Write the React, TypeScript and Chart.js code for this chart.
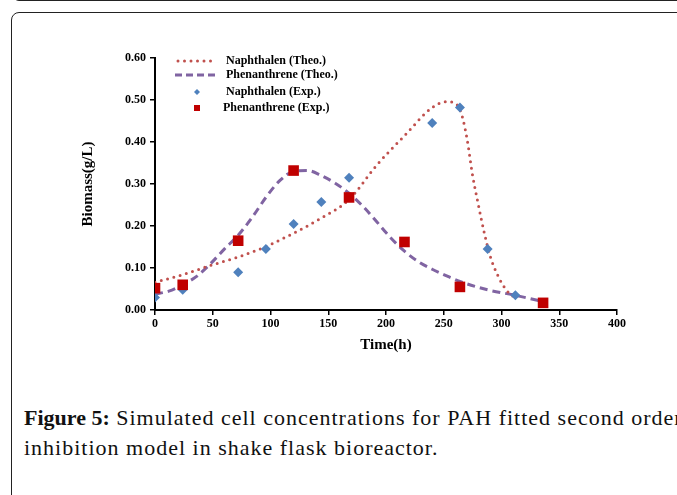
import React, { useEffect, useRef } from "react";
import { Chart, registerables } from "chart.js";

Chart.register(...registerables);

const naphExpX = [0, 24, 72, 96, 120, 144, 168, 240, 264, 288, 312];
const naphExpY = [0.03, 0.048, 0.09, 0.145, 0.205, 0.257, 0.315, 0.445, 0.482, 0.145, 0.035];
const phenExpX = [0, 24, 72, 120, 168, 216, 264, 336];
const phenExpY = [0.052, 0.06, 0.165, 0.332, 0.268, 0.162, 0.055, 0.017];

const naphTheoX = [0, 24, 48, 72, 96, 120, 144, 168, 192, 216, 240, 252, 260, 265, 270, 275, 280, 285, 290, 296, 304, 312];
const naphTheoY = [0.066, 0.084, 0.106, 0.126, 0.151, 0.183, 0.219, 0.263, 0.345, 0.415, 0.482, 0.496, 0.492, 0.47, 0.41, 0.32, 0.25, 0.185, 0.13, 0.087, 0.048, 0.028];
const phenTheoX = [0, 12, 24, 36, 48, 60, 72, 84, 96, 108, 120, 132, 144, 156, 168, 180, 192, 204, 216, 228, 240, 252, 264, 288, 312, 336];
const phenTheoY = [0.038, 0.045, 0.06, 0.08, 0.11, 0.145, 0.178, 0.22, 0.268, 0.308, 0.33, 0.332, 0.32, 0.302, 0.278, 0.247, 0.21, 0.172, 0.14, 0.115, 0.097, 0.082, 0.068, 0.048, 0.035, 0.02];

const legendLabels = ["Naphthalen (Theo.)", "Phenanthrene (Theo.)", "Naphthalen (Exp.)", "Phenanthrene (Exp.)"];
const xTitle = "Time(h)";
const yTitle = "Biomass(g/L)";

const RED_DOT = "#C0504D";
const PURPLE = "#8064A2";
const BLUE = "#4F81BD";
const DARK_RED = "#C00000";
const SERIF = "'Liberation Serif', 'Times New Roman', serif";

const pts = (xs: number[], ys: number[]) => xs.map((x, i) => ({ x, y: ys[i] }));

const legendPlugin = {
  id: "customLegend",
  afterDraw(chart: any) {
    const ctx = chart.ctx;
    ctx.save();
    ctx.font = `bold 12px ${SERIF}`;
    ctx.textBaseline = "middle";
    ctx.fillStyle = "#000";
    const rows = [61, 75, 92, 108];
    ctx.strokeStyle = RED_DOT;
    ctx.lineWidth = 3;
    ctx.lineCap = "round";
    ctx.setLineDash([0, 6.5]);
    ctx.beginPath();
    ctx.moveTo(178, rows[0]);
    ctx.lineTo(216, rows[0]);
    ctx.stroke();
    ctx.strokeStyle = PURPLE;
    ctx.lineCap = "butt";
    ctx.setLineDash([7, 4]);
    ctx.beginPath();
    ctx.moveTo(175, rows[1]);
    ctx.lineTo(218, rows[1]);
    ctx.stroke();
    ctx.setLineDash([]);
    ctx.fillStyle = BLUE;
    ctx.beginPath();
    ctx.moveTo(197, rows[2] - 3);
    ctx.lineTo(200, rows[2]);
    ctx.lineTo(197, rows[2] + 3);
    ctx.lineTo(194, rows[2]);
    ctx.closePath();
    ctx.fill();
    ctx.fillStyle = DARK_RED;
    ctx.fillRect(194, rows[3] - 3, 6, 6);
    ctx.fillStyle = "#000";
    ctx.fillText(legendLabels[0], 226, rows[0]);
    ctx.fillText(legendLabels[1], 226, rows[1]);
    ctx.fillText(legendLabels[2], 226, rows[2]);
    ctx.fillText(legendLabels[3], 223, rows[3]);
    ctx.restore();
  },
};

function ChartView() {
  const ref = useRef<HTMLCanvasElement>(null);
  useEffect(() => {
    const canvas = ref.current!;
    const chart = new Chart(canvas, {
      type: "scatter",
      data: {
        datasets: [
          {
            label: legendLabels[3],
            data: pts(phenExpX, phenExpY),
            backgroundColor: DARK_RED,
            borderColor: DARK_RED,
            pointStyle: "rect",
            pointRadius: 7.5,
            borderWidth: 0,
            showLine: false,
            order: 0,
          },
          {
            label: legendLabels[2],
            data: pts(naphExpX, naphExpY),
            backgroundColor: BLUE,
            borderColor: BLUE,
            pointStyle: "rectRot",
            pointRadius: 5,
            borderWidth: 0,
            showLine: false,
            order: 1,
          },
          {
            label: legendLabels[0],
            data: pts(naphTheoX, naphTheoY),
            showLine: true,
            borderColor: RED_DOT,
            borderWidth: 3,
            borderDash: [0, 6.5],
            borderCapStyle: "round",
            pointRadius: 0,
            tension: 0.4,
            cubicInterpolationMode: "monotone",
            order: 2,
          },
          {
            label: legendLabels[1],
            data: pts(phenTheoX, phenTheoY),
            showLine: true,
            borderColor: PURPLE,
            borderWidth: 3,
            borderDash: [8, 5],
            pointRadius: 0,
            tension: 0.4,
            cubicInterpolationMode: "monotone",
            order: 3,
          },
        ],
      },
      options: {
        animation: false,
        responsive: false,
        devicePixelRatio: 1,
        layout: { padding: { left: 0, top: 58, right: 60, bottom: 0 } },
        plugins: { legend: { display: false }, tooltip: { enabled: false } },
        scales: {
          x: {
            type: "linear",
            min: 0,
            max: 400,
            ticks: {
              stepSize: 50,
              color: "#000",
              font: { family: SERIF, size: 12, weight: "bold" },
              padding: 2,
            },
            grid: { drawOnChartArea: false, tickLength: 5, color: "#000", lineWidth: 1.5 },
            border: { color: "#000", width: 2 },
            title: {
              display: true,
              text: xTitle,
              color: "#000",
              font: { family: SERIF, size: 15, weight: "bold" },
              padding: { top: 0, bottom: 26 },
            },
            afterFit: (s: any) => {
              s.height = 70;
            },
          },
          y: {
            min: 0,
            max: 0.6,
            ticks: {
              stepSize: 0.1,
              color: "#000",
              font: { family: SERIF, size: 12, weight: "bold" },
              padding: 4,
              callback: (v: any) => Number(v).toFixed(2),
            },
            grid: { drawOnChartArea: false, tickLength: 5, color: "#000", lineWidth: 1.5 },
            border: { color: "#000", width: 2 },
            title: {
              display: true,
              text: yTitle,
              color: "#000",
              font: { family: SERIF, size: 15, weight: "bold" },
              padding: { top: 79, bottom: 0 },
            },
            afterFit: (s: any) => {
              s.width = 155;
            },
          },
        },
      },
      plugins: [legendPlugin],
    } as any);
    return () => chart.destroy();
  }, []);
  return (
    <canvas
      ref={ref}
      width={677}
      height={380}
      style={{ position: "absolute", left: 0, top: 0, width: 677, height: 380 }}
    />
  );
}

export default function App() {
  return (
    <div
      style={{
        position: "fixed",
        left: 0,
        top: 0,
        width: 677,
        height: 495,
        overflow: "hidden",
        background: "#fff",
      }}
    >
      <div
        style={{
          position: "absolute",
          left: 13,
          top: -30,
          width: 720,
          height: 31,
          border: "1.5px solid #222",
          borderRadius: 6,
          boxSizing: "border-box",
        }}
      />
      <div
        style={{
          position: "absolute",
          left: 11,
          top: 12,
          width: 720,
          height: 540,
          border: "1.5px solid #222",
          borderRadius: 8,
          boxSizing: "border-box",
        }}
      />
      <ChartView />
      <div
        style={{
          position: "absolute",
          left: 24,
          top: 403,
          fontFamily: SERIF,
          fontSize: 22,
          lineHeight: "30px",
          whiteSpace: "nowrap",
          color: "#111",
        }}
      >
        <b>Figure 5:</b>
        <span style={{ letterSpacing: "1px" }}> Simulated cell concentrations for PAH fitted second order</span>
        <br />
        <span style={{ letterSpacing: "1px" }}>inhibition model in shake flask bioreactor.</span>
      </div>
    </div>
  );
}
